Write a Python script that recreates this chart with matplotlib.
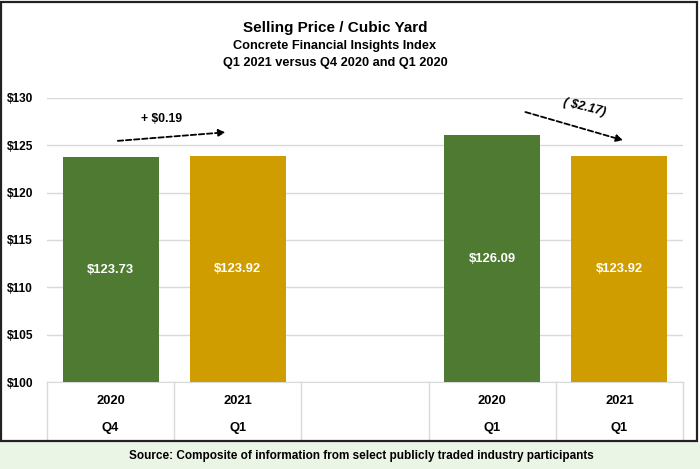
import matplotlib
matplotlib.use("Agg")
import matplotlib.pyplot as plt
from matplotlib.patches import Rectangle
from matplotlib.lines import Line2D

plt.rcParams['font.family'] = ['Liberation Sans', 'DejaVu Sans']

# ---- data ----
years = ["2020", "2021", "", "2020", "2021"]
quarters = ["Q4", "Q1", "", "Q1", "Q1"]
values = [123.73, 123.92, None, 126.09, 123.92]
bar_colors = ["#4e7a31", "#cf9d00", None, "#4e7a31", "#cf9d00"]
yticks = [100, 105, 110, 115, 120, 125, 130]
changes = ["+ $0.19", "( $2.17)"]
title = "Selling Price / Cubic Yard"
subtitle1 = "Concrete Financial Insights Index"
subtitle2 = "Q1 2021 versus Q4 2020 and Q1 2020"
source = "Source: Composite of information from select publicly traded industry participants"

W, H = 700, 469
fig = plt.figure(figsize=(W / 100, H / 100), dpi=100)

def fx(px):
    return px / W

def fy(py):
    return 1 - py / H

# outer border and source box
fig.patches.append(Rectangle((fx(1), fy(441)), fx(696), (441 - 2) / H, transform=fig.transFigure,
                             fill=False, edgecolor="#222222", linewidth=1.6, zorder=5))
fig.patches.append(Rectangle((0, 0), 1, (469 - 442) / H, transform=fig.transFigure,
                             facecolor="#ebf5e6", edgecolor="none", zorder=0))
fig.text(fx(361), fy(455.5), source, ha="center", va="center", fontsize=8.5, fontweight="bold")

# titles
tx = fx(335)
fig.text(tx, fy(28), title, ha="center", va="center", fontsize=11, fontweight="bold")
fig.text(tx, fy(46.5), subtitle1, ha="center", va="center", fontsize=9.2, fontweight="bold")
fig.text(tx, fy(63), subtitle2, ha="center", va="center", fontsize=9.2, fontweight="bold")

left, right, top, bottom = 47, 683, 98, 382
ax = fig.add_axes([fx(left), fy(bottom), fx(right - left), (bottom - top) / H])

n = len(years)
for i, (v, c) in enumerate(zip(values, bar_colors)):
    if v is None:
        continue
    ax.bar(i, v - 100, bottom=100, width=0.755, color=c, zorder=3)
    ax.text(i, (100 + v) / 2, f"${v:.2f}", ha="center", va="center", color="white",
            fontsize=9.4, fontweight="bold", zorder=4)

ax.set_xlim(-0.5, n - 0.5)
ax.set_ylim(100, 130)
ax.set_yticks(yticks)
ax.set_yticklabels([f"${t}" for t in yticks], fontsize=8.6, fontweight="bold")
ax.yaxis.grid(True, color="#d9d9d9", linewidth=1, zorder=0)
ax.set_axisbelow(True)
for s in ["top", "right", "left"]:
    ax.spines[s].set_visible(False)
ax.spines["bottom"].set_color("#d9d9d9")
ax.tick_params(axis="y", length=0, pad=10)
ax.tick_params(axis="x", length=0)
ax.set_xticks([])

# category table below the axis
tb = fy(440)
for b in range(n + 1):
    xb = fx(left + (right - left) * b / n)
    fig.add_artist(Line2D([xb, xb], [fy(bottom), tb], transform=fig.transFigure,
                          color="#d9d9d9", linewidth=1))
for i in range(n):
    xc = fx(left + (right - left) * (i + 0.5) / n)
    fig.text(xc, fy(401), years[i], ha="center", va="center", fontsize=9.3, fontweight="bold")
    fig.text(xc, fy(428), quarters[i], ha="center", va="center", fontsize=9.3, fontweight="bold")

# change arrows
ax.annotate("", xy=(0.925, 126.4), xytext=(0.035, 125.45),
            arrowprops=dict(arrowstyle="-|>", linestyle=(0, (3, 1.5)), color="black",
                            linewidth=1.3, mutation_scale=10), annotation_clip=False)
ax.text(0.40, 127.8, changes[0], ha="center", va="center", fontsize=8.8, fontweight="bold")
ax.annotate("", xy=(4.05, 125.45), xytext=(3.24, 128.6),
            arrowprops=dict(arrowstyle="-|>", linestyle=(0, (3, 1.5)), color="black",
                            linewidth=1.3, mutation_scale=10), annotation_clip=False)
ax.text(3.725, 129.0, changes[1], ha="center", va="center", fontsize=9, fontweight="bold",
        style="italic", rotation=-14)

fig.savefig("out.png", dpi=100)
